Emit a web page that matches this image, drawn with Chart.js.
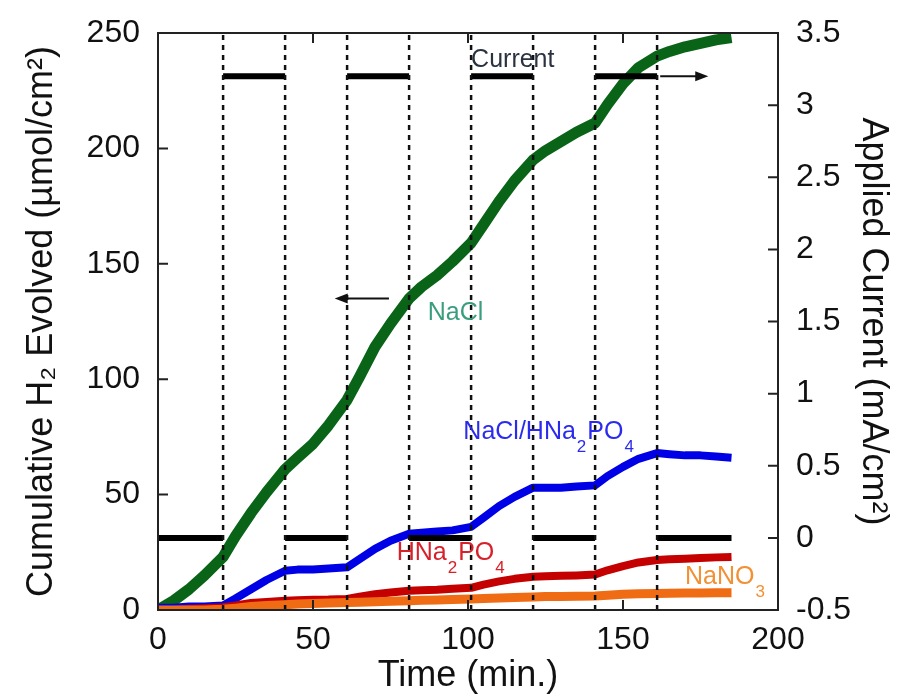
<!DOCTYPE html>
<html>
<head>
<meta charset="utf-8">
<script src="https://cdn.jsdelivr.net/npm/chart.js@4.4.1/dist/chart.umd.min.js"></script>
<style>
  html, body { margin: 0; padding: 0; background: #fff; }
  canvas { display: block; }
</style>
</head>
<body>
<canvas id="c" width="904" height="695"></canvas>
<script>
// time axis (min.) shared by the four H2 series
var minutes = [0, 5, 10, 15, 21, 25, 30, 35, 41, 45, 50, 55, 61, 65, 70, 75, 81, 85, 90, 95,
               101, 105, 110, 115, 121, 125, 130, 135, 141, 145, 150, 155, 161, 165, 170, 175, 180, 185];

// cumulative H2 evolved (umol/cm2)
var nacl = [0, 4, 9, 15, 23, 32, 42, 51, 61, 66, 72, 80, 91, 101, 114, 124, 135, 140, 145, 151,
            159, 167, 177, 186, 195, 199, 203, 207, 211, 219, 228, 235, 240, 242, 244, 245.5, 247, 248];
var naclPhosphate = [1, 1, 1.5, 1.5, 2, 5, 9, 13, 17, 17.5, 17.5, 18, 18.5, 22, 26.5, 30, 33, 33.5, 34, 34.5,
                     36, 40, 45, 49, 53, 53, 53, 53.5, 54, 58, 62, 65.5, 68, 67.5, 67, 67, 66.5, 66];
var phosphate = [0, 0, 0.5, 0.8, 1.2, 2, 3, 3.5, 4, 4.2, 4.4, 4.5, 4.8, 5.8, 6.8, 7.6, 8.3, 8.6, 8.8, 9.2,
                 9.6, 11, 12.4, 13.5, 14.4, 14.6, 14.8, 15, 15.4, 17.2, 19, 20.6, 21.7, 22, 22.2, 22.5, 22.8, 23];
var nitrate = [0, 0, 0, 0, 0.3, 0.8, 1.5, 2, 2.3, 2.6, 2.8, 3, 3.2, 3.4, 3.6, 3.8, 4, 4.2, 4.3, 4.5,
               4.8, 5, 5.2, 5.4, 5.6, 5.8, 5.9, 6, 6.1, 6.4, 6.8, 7, 7.2, 7.3, 7.4, 7.4, 7.5, 7.5];

// applied current steps (mA/cm2)
var stepStart = [0, 21, 41, 61, 81, 101, 121, 141, 161];
var stepEnd = [21, 41, 61, 81, 101, 121, 141, 161, 185];
var stepLevel = [0, 3.2, 0, 3.2, 0, 3.2, 0, 3.2, 0];

// switching times (dashed lines)
var switchTimes = [21, 41, 61, 81, 101, 121, 141, 161];

var xTicks = [0, 50, 100, 150, 200];
var leftTicks = [0, 50, 100, 150, 200, 250];
var rightTicks = [-0.5, 0, 0.5, 1, 1.5, 2, 2.5, 3, 3.5];

var FONT = '"Liberation Sans", Arial, Helvetica, sans-serif';

function pairs(xs, ys) {
    return xs.map(function(x, i) { return {x: x, y: ys[i]}; });
}

var currentPts = [];
stepStart.forEach(function(s, i) {
    currentPts.push({x: s, y: stepLevel[i]});
    currentPts.push({x: stepEnd[i], y: stepLevel[i]});
    currentPts.push({x: stepEnd[i], y: null});
});

var dashPts = [];
switchTimes.forEach(function(t) {
    dashPts.push({x: t, y: 0});
    dashPts.push({x: t, y: 250});
    dashPts.push({x: t, y: null});
});

// text notes and arrows, placed in data units
var notes = [
    {parts: [['Current']], x: 101, y: 3.31, axis: 'y2', color: '#2b3340'},
    {parts: [['NaCl']], x: 87, y: 128.5, axis: 'y', color: '#3a9e7e'},
    {parts: [['NaCl/HNa'], ['2', 1], ['PO'], ['4', 1]], x: 98.5, y: 77, axis: 'y', color: '#2b2bef'},
    {parts: [['HNa'], ['2', 1], ['PO'], ['4', 1]], x: 77, y: 24.7, axis: 'y', color: '#d8202a'},
    {parts: [['NaNO'], ['3', 1]], x: 170, y: 14.3, axis: 'y', color: '#f29035'}
];
var arrows = [
    {from: 162, to: 177.5, y: 3.2, axis: 'y2'},
    {from: 74.5, to: 57, y: 135, axis: 'y'}
];

var decor = {
    id: 'decor',
    afterDatasetsDraw: function(chart) {
        var ctx = chart.ctx, s = chart.scales;
        ctx.save();
        // arrows
        ctx.strokeStyle = '#111';
        ctx.fillStyle = '#111';
        ctx.lineWidth = 2;
        arrows.forEach(function(ar) {
            var x0 = s.x.getPixelForValue(ar.from), x1 = s.x.getPixelForValue(ar.to);
            var y = s[ar.axis].getPixelForValue(ar.y);
            var dir = x1 > x0 ? 1 : -1;
            ctx.beginPath();
            ctx.moveTo(x0, y);
            ctx.lineTo(x1 - dir * 8, y);
            ctx.stroke();
            ctx.beginPath();
            ctx.moveTo(x1, y);
            ctx.lineTo(x1 - dir * 13, y - 5);
            ctx.lineTo(x1 - dir * 13, y + 5);
            ctx.closePath();
            ctx.fill();
        });
        // labels with subscripts
        ctx.textBaseline = 'middle';
        ctx.textAlign = 'left';
        notes.forEach(function(n) {
            var x = s.x.getPixelForValue(n.x);
            var y = s[n.axis].getPixelForValue(n.y);
            ctx.fillStyle = n.color;
            n.parts.forEach(function(p) {
                if (p[1]) {
                    ctx.font = '17px ' + FONT;
                    ctx.fillText(p[0], x + 1, y + 15);
                    x += ctx.measureText(p[0]).width + 2;
                } else {
                    ctx.font = '25px ' + FONT;
                    ctx.fillText(p[0], x, y);
                    x += ctx.measureText(p[0]).width;
                }
            });
        });
        ctx.restore();
    },
    afterDraw: function(chart) {
        var ctx = chart.ctx, s = chart.scales, a = chart.chartArea;
        ctx.save();
        ctx.strokeStyle = '#222';
        ctx.lineWidth = 2;
        ctx.strokeRect(a.left, a.top, a.right - a.left, a.bottom - a.top);
        ctx.beginPath();
        var len = 10;
        xTicks.forEach(function(v) {
            var px = s.x.getPixelForValue(v);
            ctx.moveTo(px, a.bottom); ctx.lineTo(px, a.bottom - len);
            ctx.moveTo(px, a.top); ctx.lineTo(px, a.top + len);
        });
        leftTicks.forEach(function(v) {
            var py = s.y.getPixelForValue(v);
            ctx.moveTo(a.left, py); ctx.lineTo(a.left + len, py);
        });
        rightTicks.forEach(function(v) {
            var py = s.y2.getPixelForValue(v);
            ctx.moveTo(a.right, py); ctx.lineTo(a.right - len, py);
        });
        ctx.stroke();
        ctx.restore();
    }
};

var ctx = document.getElementById('c').getContext('2d');
var chart = new Chart(ctx, {
    type: 'line',
    data: {
        datasets: [{
            label: 'switch',
            data: dashPts,
            yAxisID: 'y',
            borderColor: '#111',
            borderWidth: 2.5,
            borderDash: [5, 5],
            spanGaps: false
        }, {
            label: 'Current',
            data: currentPts,
            yAxisID: 'y2',
            borderColor: '#000',
            borderWidth: 6,
            spanGaps: false
        }, {
            label: 'NaNO3',
            data: pairs(minutes, nitrate),
            yAxisID: 'y',
            borderColor: '#f06c14',
            borderWidth: 9
        }, {
            label: 'HNa2PO4',
            data: pairs(minutes, phosphate),
            yAxisID: 'y',
            borderColor: '#c40000',
            borderWidth: 8
        }, {
            label: 'NaCl/HNa2PO4',
            data: pairs(minutes, naclPhosphate),
            yAxisID: 'y',
            borderColor: '#0000e6',
            borderWidth: 8
        }, {
            label: 'NaCl',
            data: pairs(minutes, nacl),
            yAxisID: 'y',
            borderColor: '#0a6418',
            borderWidth: 11
        }]
    },
    options: {
        responsive: false,
        animation: false,
        layout: { padding: { top: 33, left: 0, right: 0, bottom: 0 } },
        elements: {
            point: { radius: 0 },
            line: { tension: 0, borderCapStyle: 'butt', borderJoinStyle: 'round' }
        },
        plugins: { legend: { display: false }, tooltip: { enabled: false } },
        scales: {
            x: {
                type: 'linear',
                min: 0, max: 200,
                ticks: { stepSize: 50, color: '#111', padding: 3, font: { family: FONT, size: 32 } },
                grid: { display: false },
                border: { display: false },
                title: { display: true, text: 'Time (min.)', color: '#111', padding: { top: 0, bottom: -3 },
                         font: { family: FONT, size: 36 } },
                afterFit: function(sc) { sc.height = 85; }
            },
            y: {
                position: 'left',
                min: 0, max: 250,
                ticks: { stepSize: 50, color: '#111', padding: 10, font: { family: FONT, size: 32 } },
                grid: { display: false },
                border: { display: false },
                title: { display: true, text: 'Cumulative H₂ Evolved (µmol/cm²)', color: '#111',
                         padding: { top: 20, bottom: 0 }, font: { family: FONT, size: 36 } },
                afterFit: function(sc) { sc.width = 158; }
            },
            y2: {
                position: 'right',
                min: -0.5, max: 3.5,
                ticks: {
                    stepSize: 0.5, color: '#111', padding: 10, font: { family: FONT, size: 32 },
                    callback: function(v) { return String(Math.round(v * 10) / 10); }
                },
                grid: { display: false },
                border: { display: false },
                title: { display: true, text: 'Applied Current (mA/cm²)', color: '#111',
                         padding: { top: 9, bottom: 0 }, font: { family: FONT, size: 36 } },
                afterFit: function(sc) { sc.width = 126; }
            }
        }
    },
    plugins: [decor]
});
</script>
</body>
</html>
